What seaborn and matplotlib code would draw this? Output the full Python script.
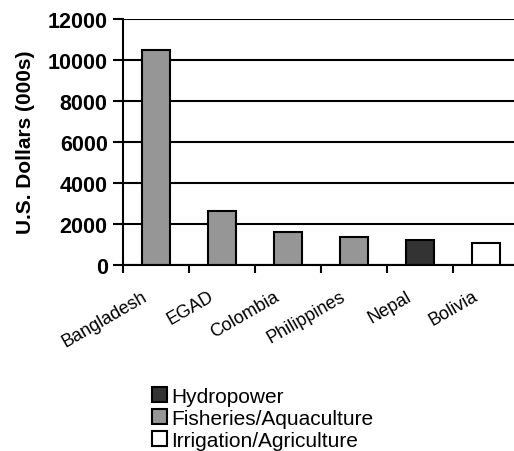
import matplotlib
matplotlib.use("Agg")
import matplotlib.pyplot as plt
import matplotlib.transforms as mtransforms
from matplotlib.patches import Patch
import seaborn as sns
import pandas as pd

# Funding by country / programme (U.S. dollars, thousands)
countries = ["Bangladesh", "EGAD", "Colombia", "Philippines", "Nepal", "Bolivia"]
amounts = [10450, 2610, 1620, 1370, 1200, 1090]
sectors = ["Fisheries/Aquaculture", "Fisheries/Aquaculture", "Fisheries/Aquaculture",
           "Fisheries/Aquaculture", "Hydropower", "Irrigation/Agriculture"]

legend_order = ["Hydropower", "Fisheries/Aquaculture", "Irrigation/Agriculture"]
sector_colors = {"Hydropower": "#333333",
                 "Fisheries/Aquaculture": "#969696",
                 "Irrigation/Agriculture": "#ffffff"}
y_ticks = [0, 2000, 4000, 6000, 8000, 10000, 12000]

df = pd.DataFrame({"country": countries, "amount": amounts, "sector": sectors})

sns.set_theme(style="white")
plt.rcParams["font.family"] = ["Liberation Sans", "DejaVu Sans"]
plt.rcParams.update({"text.color": "black", "axes.labelcolor": "black",
                     "xtick.color": "black", "ytick.color": "black"})

W, H = 514, 452
fig = plt.figure(figsize=(W / 100, H / 100), dpi=100)
ax = fig.add_axes([123 / W, (H - 266) / H, 396 / W, 246.5 / H])

sns.barplot(data=df, x="country", y="amount", hue="sector", palette=sector_colors,
            order=countries, dodge=False, width=0.41, edgecolor="black",
            linewidth=1.5, saturation=1, legend=False, ax=ax, zorder=3)

ax.set_xlim(-0.5, len(countries) - 0.5)
ax.set_ylim(0, 12000)
ax.set_yticks(y_ticks)
ax.set_yticklabels([str(v) for v in y_ticks], fontsize=15.5, fontweight="bold")
ax.yaxis.grid(True, color="black", linewidth=1.5, zorder=1)
ax.set_axisbelow(True)

for side in ["top", "right"]:
    ax.spines[side].set_visible(False)
for side in ["left", "bottom"]:
    ax.spines[side].set_color("black")
    ax.spines[side].set_linewidth(1.5)
    ax.spines[side].set_zorder(4)

ax.tick_params(axis="y", which="major", direction="out", length=7, width=1.5,
               color="black", left=True, pad=4)

# category boundaries get the tick marks; labels sit at the category centres
ax.set_xticks([i - 0.5 for i in range(len(countries) + 1)], minor=True)
ax.tick_params(axis="x", which="minor", direction="out", length=6, width=1.5,
               color="black", bottom=True)
ax.tick_params(axis="x", which="major", length=0, pad=21.5)
ax.set_xticks(range(len(countries)))
ax.set_xticklabels(countries, rotation=30, ha="right", va="center",
                   rotation_mode="anchor", fontsize=13)
shift = mtransforms.ScaledTranslation(-10 / 100, 0, fig.dpi_scale_trans)
for lbl in ax.get_xticklabels():
    lbl.set_transform(lbl.get_transform() + shift)

ax.set_xlabel("")
ax.set_ylabel("U.S. Dollars (000s)", fontsize=15, fontweight="bold", labelpad=9)

handles = [Patch(facecolor=sector_colors[s], edgecolor="black", linewidth=1.5)
           for s in legend_order]
fig.legend(handles, legend_order, loc="upper left",
           bbox_to_anchor=(152 / W, 1 - 388 / H), frameon=False, fontsize=15,
           handlelength=0.72, handleheight=0.72, handletextpad=0.2,
           labelspacing=0.14, borderpad=0, borderaxespad=0)

fig.savefig("out.png", dpi=100)
